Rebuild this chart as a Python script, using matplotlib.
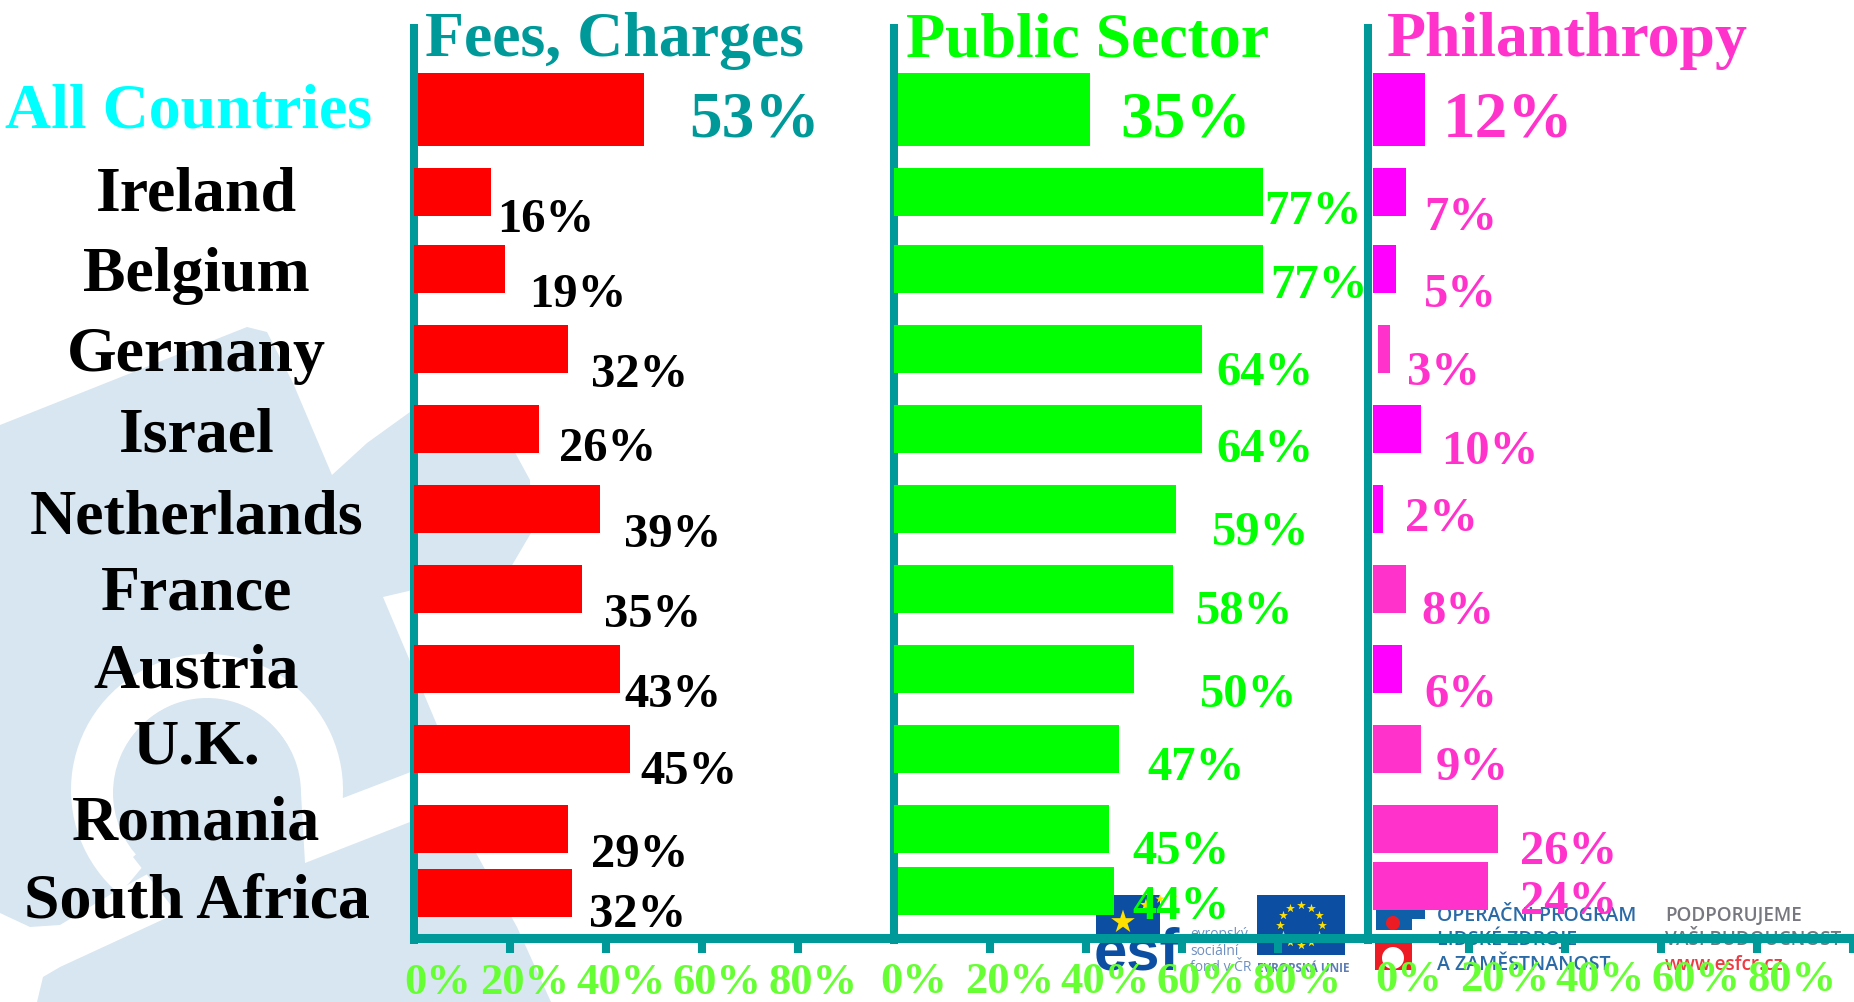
import numpy as np
import matplotlib
matplotlib.use("Agg")
import matplotlib.pyplot as plt
from matplotlib.patches import Polygon, Rectangle, Circle, Wedge
from matplotlib.transforms import ScaledTranslation

plt.rcParams["font.family"] = ["Liberation Serif", "DejaVu Serif"]

countries = ["All Countries", "Ireland", "Belgium", "Germany", "Israel", "Netherlands",
             "France", "Austria", "U.K.", "Romania", "South Africa"]
panel_titles = ["Fees, Charges", "Public Sector", "Philanthropy"]
tick_values = [0, 20, 40, 60, 80]
tick_labels = ["0%", "20%", "40%", "60%", "80%"]

# bar lengths as drawn, they do not always agree with the printed numbers
fees_bars = [48, 16.2, 19, 32.2, 26.2, 38.8, 35, 43, 45, 32.2, 33]
public_bars = [40.9, 76.9, 76.9, 64.2, 64.2, 58.8, 58.2, 50.1, 47, 44.9, 45.9]
phil_bars = [10.9, 7, 4.9, 2.5, 10.1, 2.2, 7, 6.1, 10.1, 26.1, 23.9]
phil_start = [0, 0, 0, 1.1, 0, 0, 0, 0, 0, 0, 0]

fees_labels = [53, 16, 19, 32, 26, 39, 35, 43, 45, 29, 32]
public_labels = [35, 77, 77, 64, 64, 59, 58, 50, 47, 45, 44]
phil_labels = [12, 7, 5, 3, 10, 2, 8, 6, 9, 26, 24]

# layout, all in pixels of the 1854x1002 picture
row_y = [109.5, 192, 269, 349, 429, 509, 589, 669, 749, 829]
south_africa_y = [893, 891, 886]
name_y = [127, 210, 291, 371, 452, 534, 610, 687, 764, 840, 918]
fees_x = [691, 499, 531, 593, 561, 626, 606, 626, 642, 593, 591]
fees_y = [136, 232, 307, 387, 461, 547, 627, 707, 784, 867, 927]
public_x = [1122, 1266, 1272, 1218, 1218, 1214, 1198, 1202, 1149, 1134, 1134]
public_y = [136, 224, 298, 385, 462, 545, 624, 707, 780, 864, 919]
phil_x = [1445, 1426, 1426, 1409, 1443, 1407, 1423, 1426, 1438, 1522, 1522]
phil_y = [136, 230, 307, 385, 464, 531, 624, 707, 780, 864, 914]
panel_left = [413.6, 893.7, 1372.8]
title_x = [425, 906, 1387]

TEAL = "#009999"
RED = "#FF0000"
GREEN = "#00FF00"
MAGENTA = "#FF00FF"
PINK = "#FF33CC"
TICK_GREEN = "#66FF33"
WASH = "#D8E6F1"
phil_colors = [MAGENTA, MAGENTA, MAGENTA, PINK, MAGENTA, MAGENTA, PINK, MAGENTA, PINK, PINK, PINK]

W, H = 1854, 1002
fig = plt.figure(figsize=(W / 100, H / 100), dpi=100, facecolor="white")


def full_axes(z):
    a = fig.add_axes([0, 0, 1, 1], zorder=z)
    a.set_xlim(0, W)
    a.set_ylim(H, 0)
    a.axis("off")
    return a


# watermark and logos behind the chart
bg = full_axes(0)
bg.add_patch(Polygon([(0, 425), (247, 327), (267, 332), (293, 383), (332, 475), (367, 443), (410, 412),
                      (455, 408), (500, 425), (530, 480), (531, 533), (511, 567), (383, 597), (437, 725),
                      (450, 757), (343, 798), (300, 790), (113, 893), (60, 925), (30, 927), (0, 913)],
                     fc=WASH, ec="none"))
bg.add_patch(Wedge((207, 790), 136, 130, 365, width=44, fc="white", ec="none"))
bg.add_patch(Circle((207, 793), 94, fc=WASH, ec="none"))
bg.add_patch(Polygon([(37, 1002), (43, 977), (60, 967), (177, 913), (133, 857), (207, 793), (301, 793),
                      (305, 863), (410, 822), (453, 805), (476, 853), (517, 927), (551, 1002)],
                     fc=WASH, ec="none"))

LOGO_BLUE = "#0B4EA2"
bg.add_patch(Rectangle((1096, 895), 64, 40, fc=LOGO_BLUE, ec="none"))
bg.scatter([1123, 1146, 1160, 1174], [922, 905, 899, 897], s=[320, 90, 50, 30], marker="*",
           c="#FFE000", linewidths=0)
bg.text(1094, 970, "esf", color=LOGO_BLUE, fontsize=43, fontweight="bold", family="Liberation Sans")
for txt, y in zip(["evropský", "sociální", "fond v ČR"], [938, 955, 971]):
    bg.text(1190, y, txt, color="#6F8FC0", fontsize=10, family="Open Sans")
bg.add_patch(Rectangle((1257, 895), 88, 60, fc=LOGO_BLUE, ec="none"))
ang = np.arange(12) * np.pi / 6
bg.scatter(1301 + 21 * np.cos(ang), 925 + 20 * np.sin(ang), s=45, marker="*", c="#FFE000", linewidths=0)
bg.text(1257, 972, "EVROPSKÁ UNIE", color="#5C7DB5", fontsize=8.5, fontweight="bold", family="Open Sans")

bg.add_patch(Rectangle((1376, 905), 49, 14, fc="#0F5FA8", ec="none"))
bg.add_patch(Rectangle((1376, 905), 36, 25, fc="#0F5FA8", ec="none"))
bg.add_patch(Circle((1393, 923), 7, fc="#ED1C24", ec="none"))
bg.add_patch(Rectangle((1375, 942), 37, 28, fc="#ED1C24", ec="none"))
bg.add_patch(Circle((1393, 958), 11, fc="white", ec="none"))
for txt, y in zip(["OPERAČNÍ PROGRAM", "LIDSKÉ ZDROJE", "A ZAMĚSTNANOST"], [921, 945, 970]):
    bg.text(1437, y, txt, color="#2A6AA6", fontsize=14, family="Open Sans", fontweight="semibold")
for txt, y, c in zip(["PODPORUJEME", "VAŠI BUDOUCNOST", "www.esfcr.cz"], [921, 945, 970],
                     ["#77777F", "#77777F", "#EE3A43"]):
    bg.text(1665, y, txt, color=c, fontsize=13.6, family="Open Sans", fontweight="semibold")

# the three bar panels
panel_bars = [fees_bars, public_bars, phil_bars]
panel_colors = [[RED] * 11, [GREEN] * 11, phil_colors]
panel_start = [[0] * 11, [0] * 11, phil_start]
shift_px = [[24, 15, 15, 15, 15], [19.5] * 5, [35.5] * 5]
base_px = [994, 993, 991]
top, bottom = 24, 938

for i in range(3):
    left = panel_left[i]
    right = min(left + 481.2, W)
    ax = fig.add_axes([left / W, 1 - bottom / H, (right - left) / W, (bottom - top) / H], zorder=1)
    ax.patch.set_alpha(0)
    ax.set_xlim(0, (right - left) / 4.8)
    ax.set_ylim(bottom, top)
    ys = row_y + [south_africa_y[i]]
    heights = [73] + [48] * 10
    orders = [2] + [3] * 9 + [2]  # first and last bar start behind the axis line
    for j in range(11):
        ax.barh(ys[j], panel_bars[i][j], height=heights[j], left=panel_start[i][j],
                color=panel_colors[i][j], zorder=orders[j])
    for s in ["top", "right"]:
        ax.spines[s].set_visible(False)
    ax.spines["left"].set_color(TEAL)
    ax.spines["left"].set_linewidth(5.76)
    ax.spines["left"].set_capstyle("butt")
    ax.spines["left"].set_bounds(944, top)
    ax.spines["bottom"].set_color(TEAL)
    ax.spines["bottom"].set_linewidth(6.5)
    if i == 2:
        ax.spines["left"].set_position(("outward", 3.46))
        ax.set_xticks([100], minor=True)
    ax.set_yticks([])
    ax.set_xticks(tick_values)
    ax.set_xticklabels(tick_labels)
    ax.tick_params(axis="x", which="both", length=10.8, width=5.8, color=TEAL, pad=(base_px[i] - bottom) * 0.72 - 10.8,
                   labelsize=32, labelcolor=TICK_GREEN)
    for k, lab in enumerate(ax.get_xticklabels()):
        lab.set_fontweight("bold")
        lab.set_va("baseline")
        lab.set_transform(lab.get_transform() + ScaledTranslation(shift_px[i][k] / 100, 0, fig.dpi_scale_trans))
    ax.xaxis.get_major_ticks()[0].tick1line.set_visible(False)

# all the words on top
over = full_axes(2)
title_colors = [TEAL, GREEN, PINK]
for x, t, c in zip(title_x, panel_titles, title_colors):
    over.text(x, 56, t, color=c, fontsize=46, fontweight="bold")

for j, name in enumerate(countries):
    over.text(189 if j == 0 else 196.5, name_y[j], name, ha="center", fontsize=46, fontweight="bold",
              color="#00FFFF" if j == 0 else "black")

label_sets = [(fees_labels, fees_x, fees_y, "black"), (public_labels, public_x, public_y, GREEN),
              (phil_labels, phil_x, phil_y, PINK)]
for n, (vals, xs, ys, c) in enumerate(label_sets):
    for j in range(11):
        col = TEAL if (n == 0 and j == 0) else c
        over.text(xs[j] - 2, ys[j], f"{vals[j]}%", color=col, fontsize=47 if j == 0 else 35, fontweight="bold")

fig.savefig("out.png", dpi=100)
plt.close(fig)
